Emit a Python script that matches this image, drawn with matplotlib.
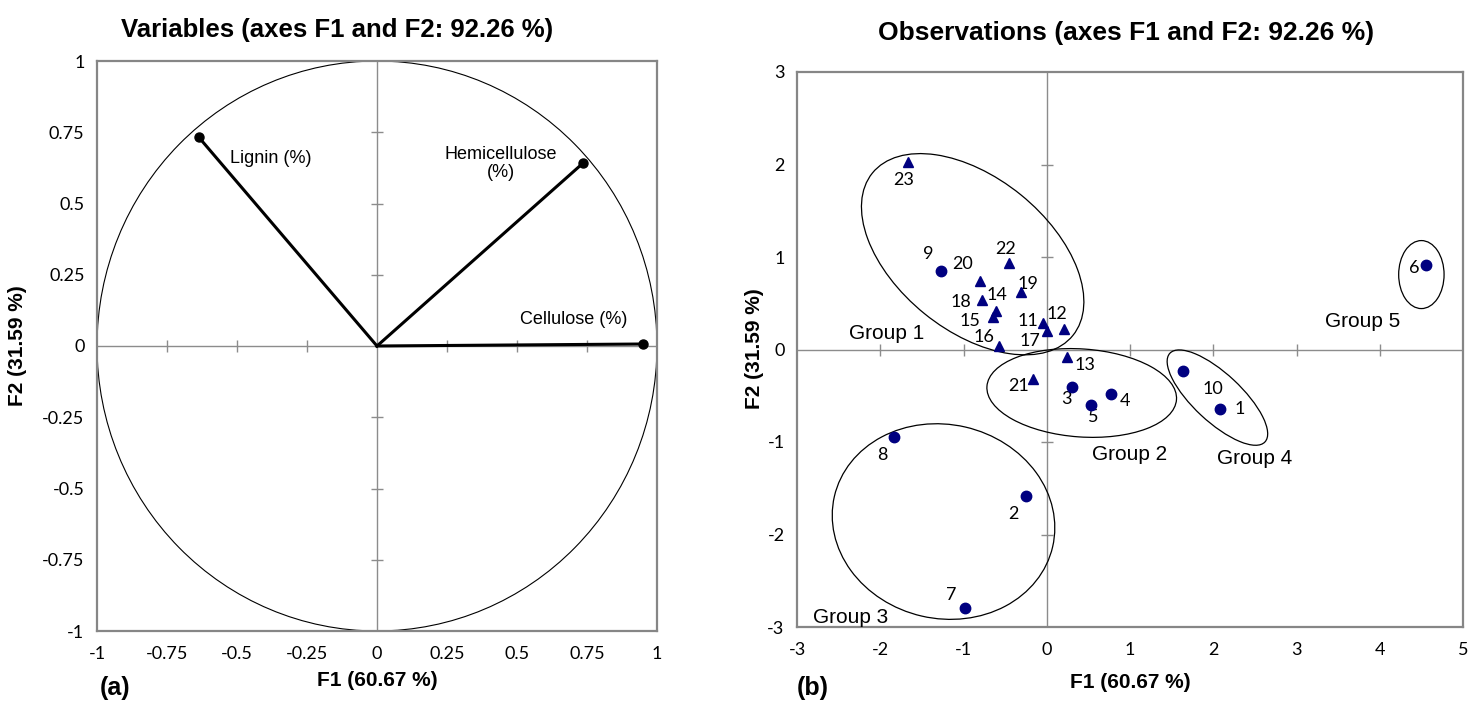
import numpy as np
import matplotlib.pyplot as plt
from matplotlib.patches import Ellipse, Circle
from matplotlib.transforms import ScaledTranslation

# ---- data: variables (correlation circle) ----
var_names = ['Lignin (%)', 'Hemicellulose\n(%)', 'Cellulose (%)']
var_f1 = [-0.636, 0.735, 0.949]
var_f2 = [0.732, 0.641, 0.007]

# ---- data: observations ----
obs_ids = ['1', '2', '3', '4', '5', '6', '7', '8', '9', '10', '11', '12',
           '13', '14', '15', '16', '17', '18', '19', '20', '21', '22', '23']
obs_f1 = [2.08, -0.25, 0.30, 0.77, 0.53, 4.55, -0.98, -1.83, -1.27, 1.64,
          -0.04, 0.21, 0.24, -0.61, -0.64, -0.57, 0.00, -0.78, -0.31, -0.80,
          -0.16, -0.45, -1.67]
obs_f2 = [-0.64, -1.58, -0.40, -0.48, -0.60, 0.91, -2.79, -0.95, 0.85, -0.23,
          0.29, 0.22, -0.08, 0.42, 0.35, 0.04, 0.20, 0.53, 0.62, 0.74,
          -0.32, 0.94, 2.03]
obs_kind = ['o', 'o', 'o', 'o', 'o', 'o', 'o', 'o', 'o', 'o',
            '^', '^', '^', '^', '^', '^', '^', '^', '^', '^', '^', '^', '^']

group_names = ['Group 1', 'Group 2', 'Group 3', 'Group 4', 'Group 5']

# label offsets (points) for observation numbers
obs_offsets = {'1': (14, 0), '2': (-9, -13), '3': (-4, -9), '4': (10, -5),
               '5': (2, -9), '6': (-8, -2), '7': (-10, 9), '8': (-9, -13),
               '9': (-9, 12), '10': (21, -13), '11': (-11, 1), '12': (-5, 11),
               '13': (13, -6), '14': (1, 11), '15': (-17, -3), '16': (-11, 6),
               '17': (-12, -7), '18': (-15, -1), '19': (5, 6), '20': (-13, 12),
               '21': (-11, -5), '22': (-3, 10), '23': (-3, -13)}
# group ellipses: centre (data), semi-axes (inches), angle (deg)
group_ellipses = [((-0.89, 1.03), 1.29, 0.765, -39),
                  ((0.42, -0.47), 0.95, 0.44, -4),
                  ((-1.24, -1.86), 1.12, 0.97, -13),
                  ((2.05, -0.52), 0.65, 0.24, -43),
                  ((4.50, 0.81), 0.34, 0.227, 90)]
group_text_pos = [(-1.92, 0.17), (0.99, -1.13), (-2.36, -2.9), (2.5, -1.18), (3.79, 0.3)]

FRAME = '#868686'
AXC = '#8c8c8c'
NAVY = '#000080'
TICKFONT = 'Lato'
SANS = 'Liberation Sans'

W, H = 1468, 702
fig = plt.figure(figsize=(W / 100, H / 100), dpi=100)
ax1 = fig.add_axes([97 / W, 1 - 631 / H, 560 / W, 570 / H])
ax2 = fig.add_axes([797 / W, 1 - 627 / H, 666 / W, 555 / H])


def style_axes(ax, xt, yt, xlab, ylab, tick_len):
    ax.set_xticks(xt)
    ax.set_yticks(yt)
    ax.set_xticklabels(xlab, fontfamily=TICKFONT, fontsize=13)
    ax.set_yticklabels(ylab, fontfamily=TICKFONT, fontsize=13)
    ax.tick_params(axis='x', length=0, pad=11)
    ax.tick_params(axis='y', length=0, pad=9)
    for s in ax.spines.values():
        s.set_color(FRAME)
        s.set_linewidth(1.6)
    ax.axhline(0, color=AXC, lw=1, zorder=1)
    ax.axvline(0, color=AXC, lw=1, zorder=1)
    xs = [v for v in xt if v != 0 and v != xt[0] and v != xt[-1]]
    ys = [v for v in yt if v != 0 and v != yt[0] and v != yt[-1]]
    ax.plot(xs, np.zeros(len(xs)), ls='none', marker='|', ms=tick_len,
            mew=1, color=AXC, zorder=1)
    ax.plot(np.zeros(len(ys)), ys, ls='none', marker='_', ms=tick_len,
            mew=1, color=AXC, zorder=1)


# ---- (a) variables ----
ax1.set_xlim(-1, 1)
ax1.set_ylim(-1, 1)
t1 = np.arange(-1, 1.01, 0.25)
lab1 = ['-1', '-0.75', '-0.5', '-0.25', '0', '0.25', '0.5', '0.75', '1']
style_axes(ax1, t1, t1, lab1, lab1, 9)
ax1.add_patch(Circle((0, 0), 1, fill=False, lw=0.8, color='black', zorder=2))
var_offsets = [(52, -15), (-59, 0), (-50, 18)]
for name, x, y, off in zip(var_names, var_f1, var_f2, var_offsets):
    ax1.plot([0, x], [0, y], color='black', lw=2.2, zorder=3)
    ax1.plot(x, y, 'o', color='black', ms=6.5, zorder=4)
    ax1.annotate(name, (x, y), xytext=off, textcoords='offset points',
                 ha='center', va='center', fontsize=13, family=SANS,
                 linespacing=1.1)

# ---- (b) observations ----
ax2.set_xlim(-3, 5)
ax2.set_ylim(-3, 3)
t2x = list(range(-3, 6))
t2y = list(range(-3, 4))
style_axes(ax2, t2x, t2y, [str(v) for v in t2x], [str(v) for v in t2y], 8)

for kind in ['o', '^']:
    xs = [x for x, k in zip(obs_f1, obs_kind) if k == kind]
    ys = [y for y, k in zip(obs_f2, obs_kind) if k == kind]
    ax2.plot(xs, ys, ls='none', marker=kind, ms=7.5 if kind == 'o' else 7,
             color=NAVY, zorder=4)
for lab, x, y in zip(obs_ids, obs_f1, obs_f2):
    ax2.annotate(lab, (x, y), xytext=obs_offsets[lab], textcoords='offset points',
                 ha='center', va='center', fontsize=13, family=TICKFONT)

for (c, a, b, ang), name, tp in zip(group_ellipses, group_names, group_text_pos):
    tr = fig.dpi_scale_trans + ScaledTranslation(c[0], c[1], ax2.transData)
    ax2.add_patch(Ellipse((0, 0), 2 * a, 2 * b, angle=ang, fill=False,
                          lw=0.9, color='black', transform=tr, zorder=3))
    ax2.text(tp[0], tp[1], name, ha='center', va='center', fontsize=15,
             family=SANS)

# ---- titles and labels ----
bold = dict(family=SANS, fontweight='bold')
fig.text(337 / W, 1 - 30 / H, 'Variables (axes F1 and F2: 92.26 %)',
         ha='center', va='center', fontsize=18.5, **bold)
fig.text(1126 / W, 1 - 33 / H, 'Observations (axes F1 and F2: 92.26 %)',
         ha='center', va='center', fontsize=19, **bold)
fig.text(377 / W, 1 - 680 / H, 'F1 (60.67 %)', ha='center', va='center',
         fontsize=15, **bold)
fig.text(1130 / W, 1 - 683 / H, 'F1 (60.67 %)', ha='center', va='center',
         fontsize=15, **bold)
fig.text(18 / W, 1 - 346 / H, 'F2 (31.59 %)', ha='center', va='center',
         rotation=90, fontsize=15, **bold)
fig.text(755 / W, 1 - 349 / H, 'F2 (31.59 %)', ha='center', va='center',
         rotation=90, fontsize=15, **bold)
fig.text(100 / W, 1 - 688 / H, '(a)', ha='left', va='center', fontsize=18, **bold)
fig.text(797 / W, 1 - 688 / H, '(b)', ha='left', va='center', fontsize=18, **bold)

fig.savefig('out.png', dpi=100, facecolor='white')
